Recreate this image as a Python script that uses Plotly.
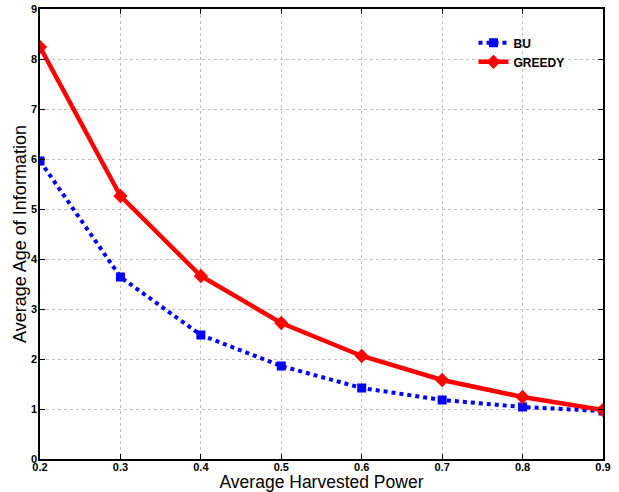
import plotly.graph_objects as go

x_vals = [0.2, 0.3, 0.4, 0.5, 0.6, 0.7, 0.8, 0.9]
bu_vals = [5.96, 3.64, 2.48, 1.86, 1.42, 1.18, 1.04, 0.96]
greedy_vals = [8.24, 5.26, 3.66, 2.72, 2.06, 1.58, 1.24, 0.98]
x_ticks = [0.2, 0.3, 0.4, 0.5, 0.6, 0.7, 0.8, 0.9]
x_tick_labels = ["0.2", "0.3", "0.4", "0.5", "0.6", "0.7", "0.8", "0.9"]
y_ticks = [0, 1, 2, 3, 4, 5, 6, 7, 8, 9]

fig = go.Figure()
fig.add_trace(go.Scatter(
    x=x_vals, y=bu_vals, name="BU", mode="lines+markers",
    line=dict(color="#0000ff", width=4, dash="dot"),
    marker=dict(symbol="square", size=9, color="#0000ff"),
))
fig.add_trace(go.Scatter(
    x=x_vals, y=greedy_vals, name="GREEDY", mode="lines+markers",
    line=dict(color="#ff0000", width=4.5),
    marker=dict(symbol="diamond", size=11, color="#ff0000"),
))

axis_common = dict(
    showline=True, linecolor="black", linewidth=1.5, mirror="ticks",
    ticks="inside", ticklen=5, tickcolor="black",
    showgrid=True, gridcolor="#c0c0c0", griddash="dot", gridwidth=1,
    zeroline=False, automargin=False,
    tickfont=dict(family="Liberation Sans, Arial, sans-serif", size=11, color="black", weight="bold"),
)

fig.update_xaxes(
    range=[0.2, 0.9], tickvals=x_ticks, ticktext=x_tick_labels,
    title_text="Average Harvested Power", title_standoff=1, ticklabelstandoff=-3,
    title_font=dict(family="Liberation Sans, Arial, sans-serif", size=17.5, color="black"),
    **axis_common,
)
fig.update_yaxes(
    range=[0, 9], tickvals=y_ticks,
    title_text="Average Age of Information", title_standoff=0, ticklabelstandoff=-1,
    title_font=dict(family="Liberation Sans, Arial, sans-serif", size=18, color="black"),
    **axis_common,
)

fig.update_layout(
    width=619, height=492,
    margin=dict(l=40, r=16, t=9, b=33),
    plot_bgcolor="white", paper_bgcolor="white",
    legend=dict(
        x=0.77, y=0.957, xanchor="left", yanchor="top",
        bgcolor="rgba(255,255,255,0)", borderwidth=0,
        font=dict(family="Liberation Sans, Arial, sans-serif", size=12, color="black", weight="bold"),
        itemwidth=30, tracegroupgap=0,
    ),
    showlegend=True,
)

fig.write_html(
    "out.html",
    config={"displayModeBar": False},
    post_script="document.body.style.margin='0';document.body.style.overflow='hidden';",
)
